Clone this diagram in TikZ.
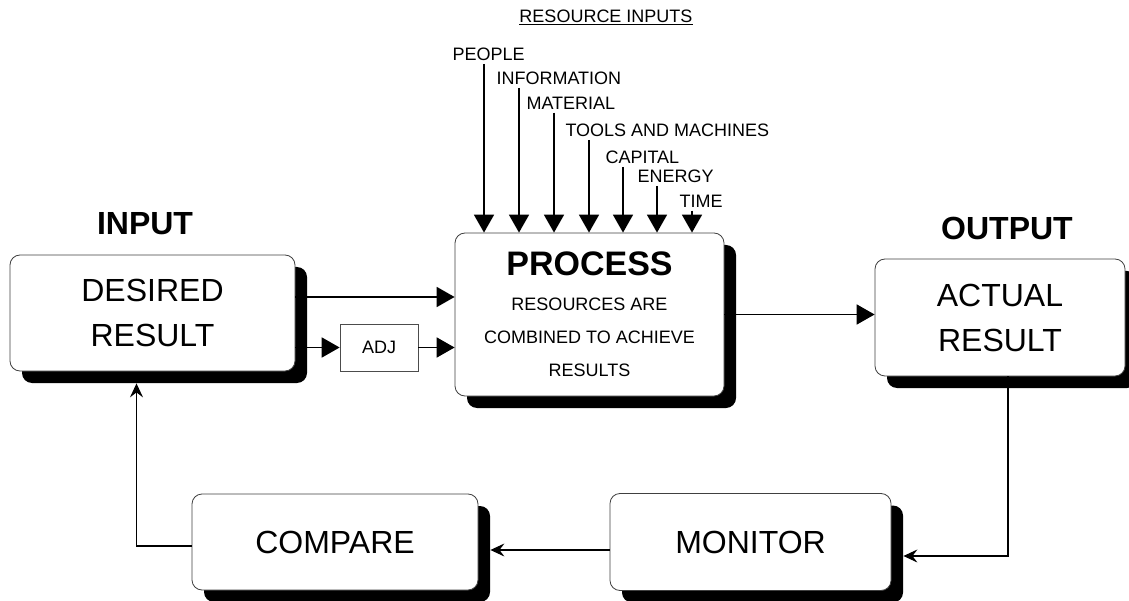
\documentclass[tikz,border=0pt]{standalone}
\usepackage{fontspec}
\setmainfont{Liberation Sans}
\usetikzlibrary{arrows.meta,shadows}

\tikzset{
  box/.style={draw=black!75, line width=0.8pt, rounded corners=10pt, fill=white, align=center,
    drop shadow={shadow xshift=12pt, shadow yshift=-12pt, fill=black, opacity=1}},
  bigtext/.style={font=\fontsize{32}{45}\selectfont},
  heading/.style={font=\bfseries\fontsize{32}{36}\selectfont},
  res/.style={font=\fontsize{18}{20}\selectfont},
  feed/.style={line width=1.8pt, -{Triangle[width=20pt,length=18pt]}},
  fb/.style={line width=1.2pt, -{Stealth[width=13pt,length=14pt,inset=5pt]}}
}

\begin{document}
\begin{tikzpicture}[x=1pt, y=-1pt]
        \useasboundingbox (0,0) rectangle (1129,601);

        % Boxes
        \node[box, bigtext, minimum width=285pt, minimum height=116pt] (desired) at (152.5,313) {DESIRED\\RESULT};
        \node[box, minimum width=269pt, minimum height=163pt, font=\fontsize{18}{33}\selectfont] (proc) at (589.5,314.5)
          {{\bfseries\fontsize{34}{36}\selectfont PROCESS}\\[2pt] RESOURCES ARE\\ COMBINED TO ACHIEVE\\ RESULTS};
        \node[box, bigtext, minimum width=250pt, minimum height=117pt] (actual) at (1000,317.5) {ACTUAL\\RESULT};
        \node[box, bigtext, minimum width=286pt, minimum height=96pt] (compare) at (335,542) {COMPARE};
        \node[box, bigtext, minimum width=281pt, minimum height=97pt] (monitor) at (750.5,542) {MONITOR};
        \node[draw=black!70, line width=0.7pt, minimum width=78pt, minimum height=47pt, font=\fontsize{18}{20}\selectfont] (adj) at (379,347.5) {ADJ};

        % Headings
        \node[heading] (input) at (145,224) {INPUT};
        \node[heading] (output) at (1007,228) {OUTPUT};
        \node[res] (resin) at (606,17) {\underline{RESOURCE INPUTS}};

        % Resource inputs
        \foreach \n/\t/\lx/\ly/\ax in {people/PEOPLE/449/54/484, info/INFORMATION/493/78/519,
            material/MATERIAL/523/103/554, tools/TOOLS AND MACHINES/562/130/589,
            capital/CAPITAL/602/157/623, energy/ENERGY/634/176/657, time/TIME/676/201/692} {
          \node[res, anchor=west] (\n) at (\lx,\ly) {\t};
          \draw[feed] (\ax,0 |- \n.south) -- (\ax,0 |- proc.north);
        }

        % Forward path
        \draw[feed] ([yshift=16pt]desired.east) -- ([yshift=16pt]desired.east -| proc.west);
        \draw[feed] (desired.east |- adj.west) -- (adj.west);
        \draw[feed] (adj.east) -- (adj.east -| proc.west);
        \draw[feed] (proc.east) -- (proc.east -| actual.west);

        % Feedback loop
        \draw[fb] ([xshift=8pt]actual.south) |- ([xshift=12pt,yshift=-14pt]monitor.east);
        \draw[fb] ([yshift=-8pt]monitor.west) -- ([xshift=12pt,yshift=-8pt]compare.east);
        \draw[fb] ([yshift=-4pt]compare.west) -| ([xshift=-16pt,yshift=-12pt]desired.south);
    \end{tikzpicture}
\end{document}
